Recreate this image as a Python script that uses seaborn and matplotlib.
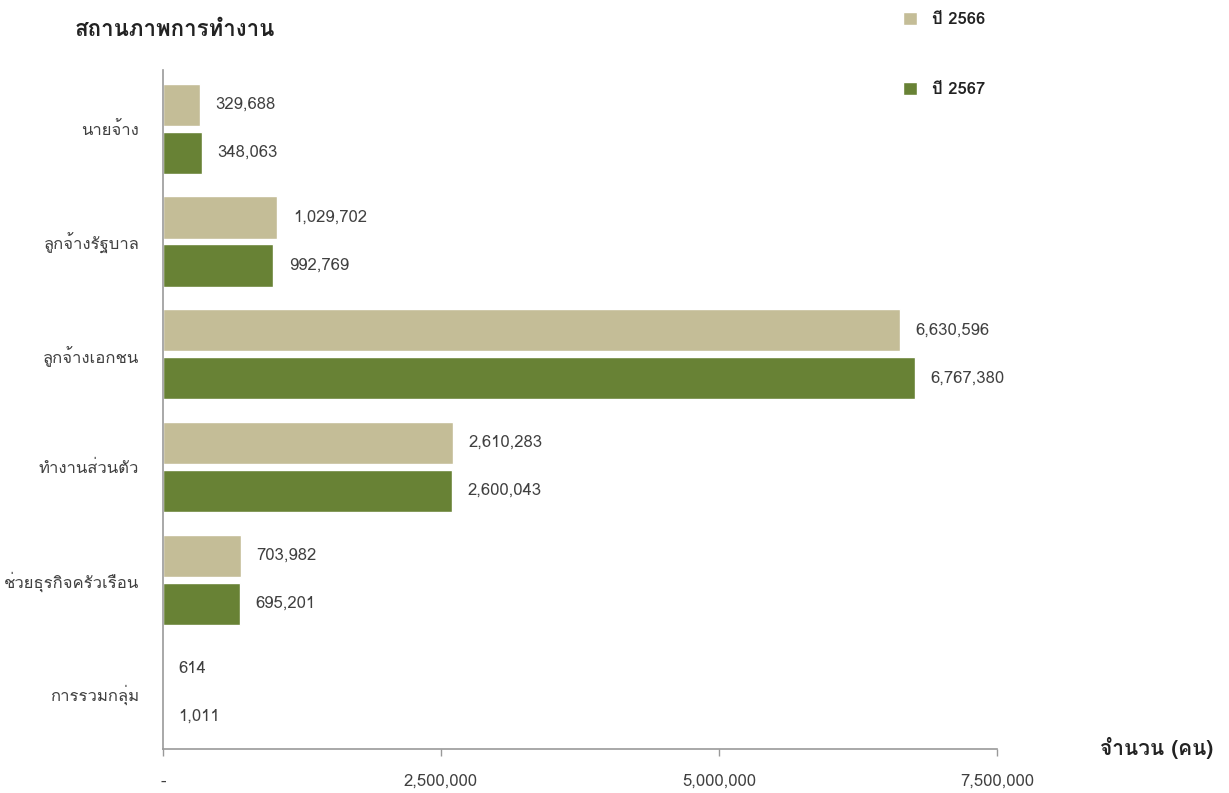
import matplotlib
matplotlib.use("Agg")
import matplotlib.pyplot as plt
from matplotlib import font_manager
import pandas as pd
import seaborn as sns

# ---- data ----
categories = ["นายจ้าง", "ลูกจ้างรัฐบาล", "ลูกจ้างเอกชน",
              "ทำงานส่วนตัว", "ช่วยธุรกิจครัวเรือน", "การรวมกลุ่ม"]
years = ["ปี 2566", "ปี 2567"]
values_2566 = [329688, 1029702, 6630596, 2610283, 703982, 614]
values_2567 = [348063, 992769, 6767380, 2600043, 695201, 1011]
x_ticks = [0, 2500000, 5000000, 7500000]
x_tick_labels = ["-", "2,500,000", "5,000,000", "7,500,000"]

df = pd.DataFrame({
    "category": categories * 2,
    "year": [years[0]] * len(categories) + [years[1]] * len(categories),
    "value": values_2566 + values_2567,
})


# ---- font with Thai glyphs ----
def find_thai_font():
    try:
        from fontTools.ttLib import TTFont
    except ImportError:
        return None
    for f in font_manager.fontManager.ttflist:
        try:
            cmap = TTFont(f.fname, fontNumber=0, lazy=True).getBestCmap()
        except Exception:
            continue
        if cmap and 0x0E2A in cmap and 0x0E33 in cmap:
            return f.name
    return None


sns.set_theme(style="white")
thai = find_thai_font()
plt.rcParams["font.family"] = ([thai] if thai else []) + ["DejaVu Sans"]

TEXT = "#404040"
fig = plt.figure(figsize=(12.29, 7.93), dpi=100)
ax = fig.add_axes([0.1326, 0.0555, 0.6786, 0.8562])

sns.barplot(data=df, x="value", y="category", hue="year", orient="h",
            palette=["#C4BD97", "#688235"], saturation=1, width=0.85, gap=0.12,
            order=categories, hue_order=years, ax=ax)

for cont in ax.containers:
    ax.bar_label(cont, labels=[f"{v:,.0f}" for v in cont.datavalues],
                 padding=11, fontsize=12, color=TEXT)

ax.set_xlim(0, 7500000)
ax.set_ylim(5.5, -0.52)
ax.set_xticks(x_ticks)
ax.set_xticklabels(x_tick_labels, fontsize=12, color=TEXT)
ax.tick_params(axis="x", direction="out", length=5, width=1, color="#999999",
               pad=13, bottom=True)
ax.tick_params(axis="y", length=0, pad=17, labelsize=12, labelcolor=TEXT)
ax.set_xlabel("")
ax.set_ylabel("")
for side in ["top", "right"]:
    ax.spines[side].set_visible(False)
for side in ["left", "bottom"]:
    ax.spines[side].set_color("#999999")
    ax.spines[side].set_linewidth(1.2)

leg = ax.legend(loc="upper left", bbox_to_anchor=(0.735, 0.985),
                bbox_transform=fig.transFigure, frameon=False,
                borderpad=0, borderaxespad=0, labelspacing=3.3,
                handlelength=0.8, handleheight=0.8, handletextpad=0.9,
                prop={"weight": "bold", "size": 12})
for t in leg.get_texts():
    t.set_color("#222222")

fig.text(75 / 1229, 1 - 30 / 793, "สถานภาพการทำงาน", fontsize=16,
         fontweight="bold", color="#222222", va="center", ha="left")
fig.text(1213 / 1229, 1 - 748 / 793, "จำนวน (คน)", fontsize=15,
         fontweight="bold", color="#222222", va="center", ha="right")

fig.savefig("out.png", dpi=100, facecolor="white")
